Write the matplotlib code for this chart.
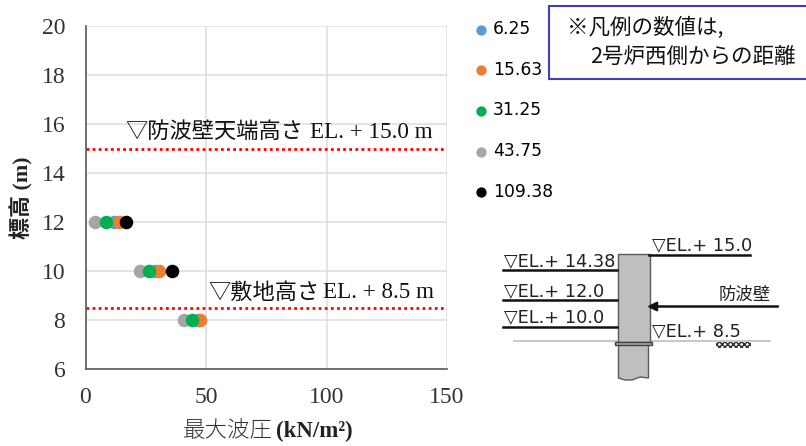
import matplotlib
matplotlib.use("Agg")
import matplotlib.pyplot as plt
from matplotlib.patches import Rectangle, Polygon

W, H = 806, 446
SERIF = ['Liberation Serif', 'Noto Sans CJK JP']
CJK = ['Noto Sans CJK JP', 'DejaVu Sans']
LAT = ['DejaVu Sans', 'Noto Sans CJK JP']

elevations = [12, 10, 8]
series_names = ['6.25', '15.63', '31.25', '43.75', '109.38']
series_colors = ['#5B9BD5', '#ED7D31', '#00B050', '#A5A5A5', '#000000']
pressure_6 = [12.0, 28.8, 46.6]
pressure_15 = [14.0, 30.5, 47.4]
pressure_31 = [8.4, 26.3, 44.2]
pressure_43 = [3.9, 22.5, 40.9]
pressure_109 = [17.0, 35.7, None]
all_series = [pressure_6, pressure_15, pressure_31, pressure_43, pressure_109]
zorders = [3, 4, 6, 5, 7]

x_ticks = [0, 50, 100, 150]
y_ticks = [6, 8, 10, 12, 14, 16, 18, 20]
wall_top = 15.0
ground = 8.5

plt.rcParams['hatch.linewidth'] = 1.1

fig = plt.figure(figsize=(W / 100, H / 100), dpi=100)
ax = fig.add_axes([85.5 / W, 1 - 369 / H, (447 - 85.5) / W, (369 - 26) / H])
ax.set_xlim(0, 150)
ax.set_ylim(6, 20)
ax.set_xticks(x_ticks)
ax.set_yticks(y_ticks)
ax.grid(True, color='#DDDDDD', lw=1.1)
ax.set_axisbelow(True)
for s in ('top', 'right'):
    ax.spines[s].set_visible(False)
for s in ('left', 'bottom'):
    ax.spines[s].set_color('#595959')
    ax.spines[s].set_linewidth(1.2)
ax.tick_params(axis='x', length=0, pad=13, labelsize=17, labelcolor='#333333')
ax.tick_params(axis='y', length=0, pad=14.5, labelsize=17, labelcolor='#333333')
for lab in ax.get_xticklabels() + ax.get_yticklabels():
    lab.set_family(SERIF)

for name, color, vals, z in zip(series_names, series_colors, all_series, zorders):
    xs = [v for v in vals if v is not None]
    ys = [e for e, v in zip(elevations, vals) if v is not None]
    ax.scatter(xs, ys, s=95, color=color, zorder=z, linewidths=0, label=name, clip_on=False)

for level in (wall_top, ground):
    ax.axhline(level, color='#FF0000', lw=2, ls=(0, (1, 1.2)), zorder=2)

# overlay in pixel coordinates for annotation and the schematic
ov = fig.add_axes([0, 0, 1, 1], facecolor='none')
ov.set_xlim(0, W)
ov.set_ylim(H, 0)
ov.axis('off')

ov.text(125, 131, '▽防波壁天端高さ', family=CJK, fontsize=16, va='center', color='#111111')
ov.text(310, 132, 'EL. + 15.0 m', family=SERIF, fontsize=16.7, va='center', color='#111111')
ov.text(208, 292, '▽敷地高さ', family=CJK, fontsize=16, va='center', color='#111111')
ov.text(323, 293, 'EL. + 8.5 m', family=SERIF, fontsize=16.6, va='center', color='#111111')

# axis titles
ov.text(183, 431, '最大波圧', family=CJK, fontsize=16.2, va='center', color='#333333', fontweight='light')
ov.text(276, 431, '(kN/m²)', family=SERIF, fontsize=16.4, fontweight='bold', va='center', color='#222222')
ov.text(22, 198, '標高 (m)', family=SERIF, fontsize=15.8, fontweight='bold', rotation=90,
        va='center', ha='center', color='#222222')

# legend
handles, labels = ax.get_legend_handles_labels()
leg = fig.legend(handles, labels, loc='upper left', bbox_to_anchor=(473 / W, 1 - 20 / H),
                 frameon=False, labelspacing=1.33, borderpad=0, borderaxespad=0,
                 handletextpad=0.25, handlelength=0.9, scatterpoints=1, markerscale=0.76,
                 prop={'family': LAT, 'size': 12.3})

# note box
ov.add_patch(Rectangle((549, 5.5), 262, 73, fc='white', ec='#3F3FBF', lw=1.5, zorder=5))
ov.text(567, 28, '※凡例の数値は,', family=CJK, fontsize=15.5, va='center', color='#111111', zorder=6)
ov.text(590, 57, '2号炉西側からの距離', family=CJK, fontsize=15.5, va='center', color='#111111', zorder=6)

# wall schematic
ov.add_patch(Rectangle((617.5, 254), 32, 88, fc='#BFBFBF', ec='#595959', lw=1, zorder=3))
ov.add_patch(Rectangle((614.5, 342), 37, 3, fc='#A6A6A6', ec='#404040', lw=1, zorder=4))
ov.add_patch(Polygon([(618.5, 345), (648.5, 345), (648.5, 378), (640, 377), (632, 380), (625, 380), (618.5, 378)],
                     fc='#BFBFBF', ec='#595959', lw=1, zorder=3))
ov.plot([514, 770], [341, 341], color='#BFBFBF', lw=1.2, zorder=2)
for x0, x1, y in [(503, 617, 270), (503, 617, 300), (503, 617, 326.5), (649, 750, 254.5)]:
    ov.plot([x0, x1], [y, y], color='#111111', lw=1.8, zorder=4)
ov.annotate('', xy=(647, 306.5), xytext=(778, 306.5),
            arrowprops=dict(arrowstyle='-|>', color='#111111', lw=1.8, mutation_scale=13, shrinkA=0, shrinkB=0))
for x, y, t in [(504, 261, '▽EL.+ 14.38'), (504, 291, '▽EL.+ 12.0'), (504, 317, '▽EL.+ 10.0'),
                (652, 245, '▽EL.+ 15.0'), (652, 331, '▽EL.+ 8.5')]:
    ov.text(x, y, t, family=LAT, fontsize=12.8, va='center', color='#222222')
ov.text(719, 295, '防波壁', family=CJK, fontsize=12.5, va='center', color='#222222')
ov.add_patch(Rectangle((716, 342), 35, 6, fc='white', ec='#333333', lw=0, hatch='xxxxxx', zorder=2))

fig.savefig('out.png', dpi=100)
